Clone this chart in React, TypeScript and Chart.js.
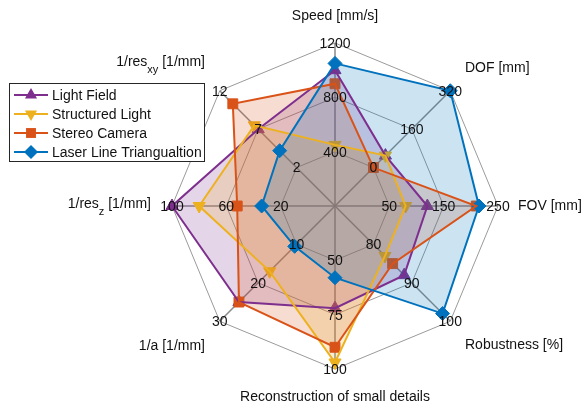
import React, { useEffect, useRef } from 'react';
import { Chart, registerables } from 'chart.js';

Chart.register(...registerables);

// Axes, clockwise from the top
const axisTitles = [
  'Speed [mm/s]',
  'DOF [mm]',
  'FOV [mm]',
  'Robustness [%]',
  'Reconstruction of small details',
  '1/a [1/mm]',
  '1/res_z [1/mm]',
  '1/res_xy [1/mm]',
];

// Labels on the three rings of each axis
const speedTicks = [400, 800, 1200];
const dofTicks = [0, 160, 320];
const fovTicks = [50, 150, 250];
const robustnessTicks = [80, 90, 100];
const detailTicks = [50, 75, 100];
const invATicks = [10, 20, 30];
const invResZTicks = [20, 60, 100];
const invResXYTicks = [2, 7, 12];
const axisTicks = [speedTicks, dofTicks, fovTicks, robustnessTicks, detailTicks, invATicks, invResZTicks, invResXYTicks];

// Series values in axis order
const seriesNames = ['Light Field', 'Structured Light', 'Stereo Camera', 'Laser Line Triangualtion'];
const lightField = [1000, 50, 120, 88, 72, 25, 100, 7];
const structuredLight = [450, 50, 80, 83, 97, 17, 80, 7.5];
const stereoCamera = [900, 0, 210, 85, 90, 25, 52, 10.3];
const laserLine = [1050, 320, 215, 98, 58, 10.5, 34, 4.2];
const seriesValues = [lightField, structuredLight, stereoCamera, laserLine];

const seriesColors = ['#7E2F8E', '#EDB120', '#D95319', '#0072BD'];
const seriesMarkers = ['triangle', 'triangleDown', 'square', 'diamond'];

const FONT_FAMILY = '"Liberation Sans", Arial, Helvetica, sans-serif';
const TEXT_COLOR = '#111111';

// Each axis spans one ring step below its first label up to its last label
const axisMin = axisTicks.map((t) => t[0] - (t[1] - t[0]));
const axisMax = axisTicks.map((t) => t[t.length - 1]);
const toUnit = (vals: number[]) => vals.map((v, i) => (v - axisMin[i]) / (axisMax[i] - axisMin[i]));

function withAlpha(hex: string, a: number) {
  const n = parseInt(hex.slice(1), 16);
  return `rgba(${(n >> 16) & 255},${(n >> 8) & 255},${n & 255},${a})`;
}

const chartPointStyle: Record<string, string> = {
  triangle: 'triangle',
  triangleDown: 'triangle',
  square: 'rect',
  diamond: 'rectRot',
};

function drawMarker(ctx: CanvasRenderingContext2D, kind: string, x: number, y: number, r: number, color: string) {
  ctx.beginPath();
  if (kind === 'triangle' || kind === 'triangleDown') {
    const s = kind === 'triangle' ? 1 : -1;
    for (let k = 0; k < 3; k++) {
      const a = (k * 2 * Math.PI) / 3;
      const px = x + Math.sin(a) * r;
      const py = y - s * Math.cos(a) * r;
      if (k === 0) ctx.moveTo(px, py);
      else ctx.lineTo(px, py);
    }
    ctx.closePath();
  } else if (kind === 'square') {
    const h = r * Math.SQRT1_2;
    ctx.rect(x - h, y - h, 2 * h, 2 * h);
  } else {
    ctx.moveTo(x - r, y);
    ctx.lineTo(x, y - r);
    ctx.lineTo(x + r, y);
    ctx.lineTo(x, y + r);
    ctx.closePath();
  }
  ctx.fillStyle = color;
  ctx.fill();
}

// Title anchor offsets from the plot centre, with text alignment
const titleAnchors: [number, number, CanvasTextAlign][] = [
  [0, -190, 'center'],
  [130, -138, 'left'],
  [183, 0, 'left'],
  [130, 139, 'left'],
  [0, 191, 'center'],
  [-130, 140, 'right'],
  [-184, -2, 'right'],
  [-130, -144, 'right'],
];

function drawTitle(ctx: CanvasRenderingContext2D, text: string, x: number, y: number, align: CanvasTextAlign) {
  const m = text.match(/^(.*?)_(\w+)(.*)$/);
  ctx.textBaseline = 'middle';
  ctx.fillStyle = TEXT_COLOR;
  if (!m) {
    ctx.font = `14px ${FONT_FAMILY}`;
    ctx.textAlign = align;
    ctx.fillText(text, x, y);
    return;
  }
  const [, head, sub, tail] = m;
  ctx.font = `14px ${FONT_FAMILY}`;
  const wHead = ctx.measureText(head).width;
  const wTail = ctx.measureText(tail).width;
  ctx.font = `11px ${FONT_FAMILY}`;
  const wSub = ctx.measureText(sub).width;
  const total = wHead + wSub + wTail;
  let left = x;
  if (align === 'right') left = x - total;
  else if (align === 'center') left = x - total / 2;
  ctx.textAlign = 'left';
  ctx.font = `14px ${FONT_FAMILY}`;
  ctx.fillText(head, left, y);
  ctx.fillText(tail, left + wHead + wSub, y);
  ctx.font = `11px ${FONT_FAMILY}`;
  ctx.fillText(sub, left + wHead, y + 8);
}

const decorations = {
  id: 'spiderDecorations',
  afterDraw(chart: any) {
    const ctx: CanvasRenderingContext2D = chart.ctx;
    const scale = chart.scales.r;
    const cx = scale.xCenter;
    const cy = scale.yCenter;
    ctx.save();

    // ring labels of every axis
    ctx.font = `14px ${FONT_FAMILY}`;
    ctx.fillStyle = TEXT_COLOR;
    ctx.textAlign = 'center';
    ctx.textBaseline = 'middle';
    axisTicks.forEach((ticks, i) => {
      ticks.forEach((t, k) => {
        const p = scale.getPointPositionForValue(i, (k + 1) / ticks.length);
        ctx.fillText(String(t), p.x, p.y + 1);
      });
    });

    // axis titles
    axisTitles.forEach((title, i) => {
      const [dx, dy, align] = titleAnchors[i];
      drawTitle(ctx, title, cx + dx, cy + dy, align);
    });

    // legend box
    const bx = 9.5;
    const by = 83.5;
    const bw = 195;
    const bh = 78;
    ctx.fillStyle = '#ffffff';
    ctx.fillRect(bx, by, bw, bh);
    ctx.strokeStyle = '#262626';
    ctx.lineWidth = 1;
    ctx.strokeRect(bx, by, bw, bh);
    seriesNames.forEach((name, i) => {
      const y = by + 11.5 + i * 19;
      const color = seriesColors[i];
      ctx.strokeStyle = color;
      ctx.lineWidth = 2;
      ctx.beginPath();
      ctx.moveTo(14, y);
      ctx.lineTo(48, y);
      ctx.stroke();
      drawMarker(ctx, seriesMarkers[i], 31, y, 7, color);
      ctx.font = `14px ${FONT_FAMILY}`;
      ctx.fillStyle = TEXT_COLOR;
      ctx.textAlign = 'left';
      ctx.textBaseline = 'middle';
      ctx.fillText(name, 52, y + 1);
    });

    ctx.restore();
  },
};

export default function App() {
  const canvasRef = useRef<HTMLCanvasElement | null>(null);

  useEffect(() => {
    const canvas = canvasRef.current;
    if (!canvas) return;

    // filled areas with markers, one layer per series
    const areas = seriesValues.map((vals, i) => ({
      label: seriesNames[i],
      data: toUnit(vals),
      fill: true,
      backgroundColor: withAlpha(seriesColors[i], 0.2),
      borderColor: 'rgba(0,0,0,0)',
      borderWidth: 0,
      pointStyle: chartPointStyle[seriesMarkers[i]],
      pointRotation: seriesMarkers[i] === 'triangleDown' ? 180 : 0,
      pointRadius: seriesMarkers[i] === 'square' ? 7 : 7,
      pointBackgroundColor: seriesColors[i],
      pointBorderColor: seriesColors[i],
      pointBorderWidth: 1,
      order: 7 - i,
    }));

    // outlines drawn above all areas
    const outlines = seriesValues.map((vals, i) => ({
      label: seriesNames[i] + ' outline',
      data: toUnit(vals),
      fill: false,
      borderColor: seriesColors[i],
      borderWidth: 2,
      pointRadius: 0,
      order: 3 - i,
    }));

    const chart = new Chart(canvas, {
      type: 'radar',
      data: {
        labels: axisTitles,
        datasets: [...areas, ...outlines] as any,
      },
      options: {
        animation: false,
        responsive: false,
        devicePixelRatio: 1,
        events: [],
        layout: { padding: { left: 172, right: 84, top: 43, bottom: 38 } },
        plugins: {
          legend: { display: false },
          tooltip: { enabled: false },
        },
        elements: { line: { tension: 0 } },
        scales: {
          r: {
            min: 0,
            max: 1,
            startAngle: 0,
            ticks: { display: false, count: 4 },
            pointLabels: { display: false },
            grid: { color: '#9a9a9a', lineWidth: 1, circular: false },
            angleLines: { color: '#8a8a8a', lineWidth: 1.5 },
          },
        },
      } as any,
      plugins: [decorations],
    });

    return () => chart.destroy();
  }, []);

  return (
    <div style={{ position: 'absolute', left: 0, top: 0, width: 582, height: 407, background: '#ffffff' }}>
      <canvas ref={canvasRef} width={582} height={407} style={{ width: 582, height: 407, display: 'block' }} />
    </div>
  );
}
